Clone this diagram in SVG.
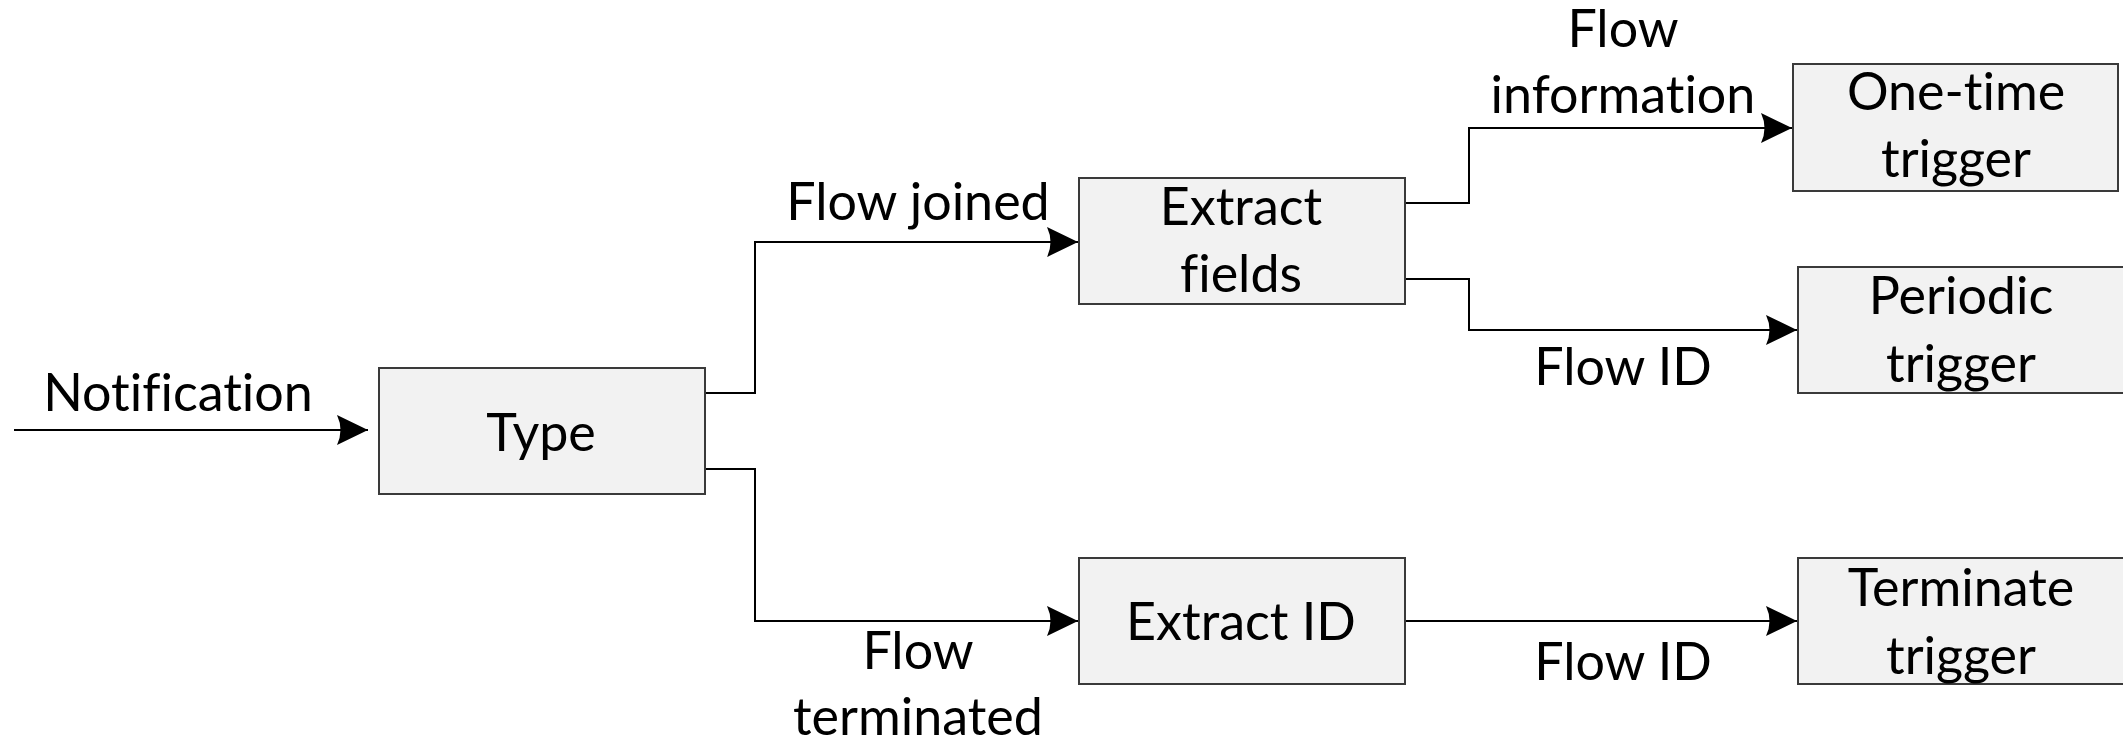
<svg xmlns="http://www.w3.org/2000/svg" width="2123" height="744" viewBox="0 0 2123 744">
<style>
.box{fill:#f2f2f2;stroke:#3a3a3a;stroke-width:2}
.ln{fill:none;stroke:#000;stroke-width:2;marker-end:url(#ah)}
text{font-family:Lato,"Open Sans","Liberation Sans",sans-serif;font-size:52px;fill:#000;text-anchor:middle;font-variant-ligatures:none;font-feature-settings:"liga" 0,"clig" 0}
</style>
<defs>
<marker id="ah" markerUnits="userSpaceOnUse" markerWidth="34" markerHeight="34" refX="31" refY="15" orient="auto" overflow="visible">
<path d="M31,15 L0,0 Q7,15 0,30 Z" fill="#000"/>
</marker>
</defs>
<rect width="2123" height="744" fill="#fff"/>
<g id="connectors">
<path class="ln" d="M14,430 H368"/>
<path class="ln" d="M705,393 H755 V242 H1078"/>
<path class="ln" d="M705,469 H755 V621 H1078"/>
<path class="ln" d="M1405,203 H1469 V128 H1792"/>
<path class="ln" d="M1405,279 H1469 V330 H1797"/>
<path class="ln" d="M1405,621 H1797"/>
<text x="178" y="411">Notification</text>
<text x="918" y="220">Flow joined</text>
<text x="918" y="669">Flow</text>
<text x="918" y="735">terminated</text>
<text x="1623" y="47">Flow</text>
<text x="1623" y="113">information</text>
<text x="1623" y="385">Flow ID</text>
<text x="1623" y="680">Flow ID</text>
</g>
<g id="type">
<rect class="box" x="379" y="368" width="326" height="126"/>
<text x="541" y="451">Type</text>
</g>
<g id="extract-fields">
<rect class="box" x="1079" y="178" width="326" height="126"/>
<text x="1241" y="225">Extract</text>
<text x="1241" y="292">fields</text>
</g>
<g id="extract-id">
<rect class="box" x="1079" y="558" width="326" height="126"/>
<text x="1241" y="640">Extract ID</text>
</g>
<g id="one-time-trigger">
<rect class="box" x="1793" y="64" width="325" height="127"/>
<text x="1956" y="110">One-time</text>
<text x="1956" y="177">trigger</text>
</g>
<g id="periodic-trigger">
<rect class="box" x="1798" y="267" width="327" height="126"/>
<text x="1961" y="314">Periodic</text>
<text x="1961" y="382">trigger</text>
</g>
<g id="terminate-trigger">
<rect class="box" x="1798" y="558" width="327" height="126"/>
<text x="1961" y="606">Terminate</text>
<text x="1961" y="674">trigger</text>
</g>
</svg>
